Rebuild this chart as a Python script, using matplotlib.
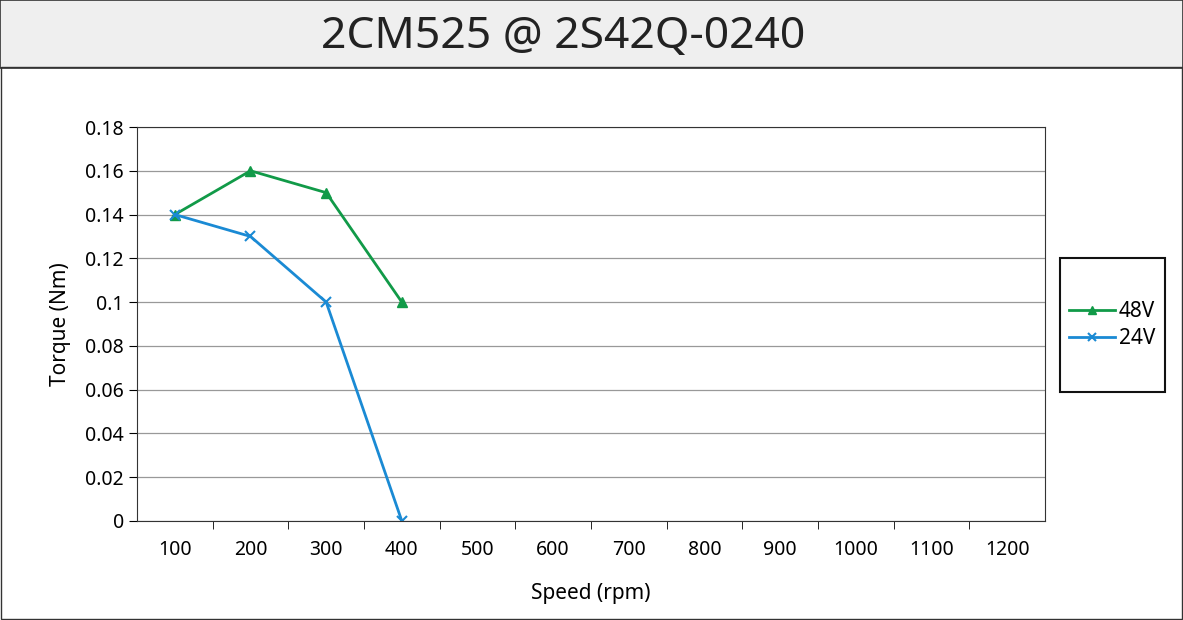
import matplotlib.pyplot as plt
from matplotlib.patches import Rectangle
from matplotlib.lines import Line2D

plt.rcParams['font.family'] = ['Noto Sans', 'DejaVu Sans']

speeds = [100, 200, 300, 400, 500, 600, 700, 800, 900, 1000, 1100, 1200]
torque_48v = [0.14, 0.16, 0.15, 0.10]
torque_24v = [0.14, 0.13, 0.10, 0.0]
green = '#119a48'
blue = '#1a8ad4'

W, H = 1183, 620
fig = plt.figure(figsize=(W / 100, H / 100), dpi=100)

# title bar
fig.patches.append(Rectangle((0, 1 - 68 / H), 1, 68 / H, transform=fig.transFigure,
                             facecolor='#efefef', edgecolor='#333333', lw=1.2))
fig.patches.append(Rectangle((0.0005, 0.001), 0.999, 1 - 68 / H, transform=fig.transFigure,
                             facecolor='none', edgecolor='#333333', lw=1.0))
fig.text(563 / W, 1 - 37 / H, '2CM525 @ 2S42Q-0240', ha='center', va='center',
         fontsize=32, color='#222222')

ax = fig.add_axes([137 / W, 1 - 521 / H, 908 / W, 394 / H])
idx = list(range(len(speeds)))
ax.plot(idx[:4], torque_48v, color=green, marker='^', markersize=7, lw=2, label='48V')
ax.plot(idx[:4], torque_24v, color=blue, marker='x', markersize=7, mew=1.5, lw=2, label='24V')

ax.set_xlim(-0.5, 11.5)
ax.set_ylim(0, 0.18)
ax.set_yticks([0, 0.02, 0.04, 0.06, 0.08, 0.1, 0.12, 0.14, 0.16, 0.18])
ax.set_yticklabels(['0', '0.02', '0.04', '0.06', '0.08', '0.1', '0.12', '0.14', '0.16', '0.18'])
ax.set_xticks(idx)
ax.set_xticklabels([str(s) for s in speeds])
ax.set_xticks([i + 0.5 for i in idx[:-1]], minor=True)
ax.tick_params(axis='x', which='major', length=0, pad=14, labelsize=14)
ax.tick_params(axis='x', which='minor', length=6, direction='out')
ax.tick_params(axis='y', length=6, direction='out', labelsize=14)
ax.yaxis.grid(True, color='#999999', lw=0.9)
ax.set_axisbelow(True)
for s in ax.spines.values():
    s.set_color('#333333')
ax.set_xlabel('Speed (rpm)', fontsize=15, labelpad=16)
ax.set_ylabel('Torque (Nm)', fontsize=15, labelpad=10)

# legend box
fig.patches.append(Rectangle((1060 / W, 1 - 392 / H), 105 / W, 134 / H, transform=fig.transFigure,
                             facecolor='white', edgecolor='#111111', lw=1.5))
leg = fig.legend(handles=[Line2D([], [], color=green, marker='^', lw=2),
                          Line2D([], [], color=blue, marker='x', mew=1.5, lw=2)],
                 labels=['48V', '24V'], loc='center', bbox_to_anchor=(1112 / W, 1 - 325 / H),
                 fontsize=15, frameon=False, borderpad=0,
                 handlelength=2.2, handletextpad=0.2, labelspacing=0.3)

fig.savefig('out.png', dpi=100)
